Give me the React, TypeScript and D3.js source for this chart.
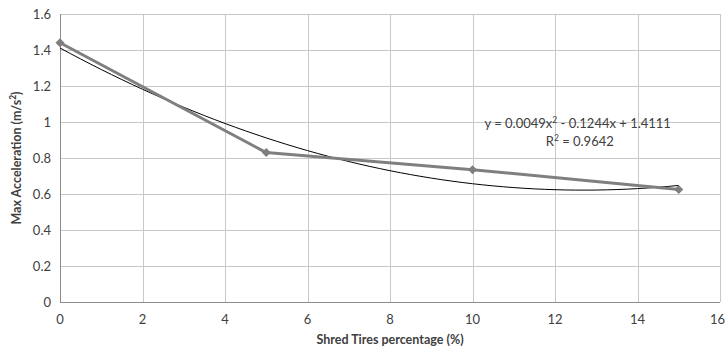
import React from 'react';
import * as d3 from 'd3';

// measured series
const shredPct = [0, 5, 10, 15];
const maxAccel = [1.44, 0.83, 0.735, 0.625];

// polynomial trendline coefficients as shown on chart (a x^2 + b x + c)
const trendCoef = [0.0049, -0.1244, 1.4111];

const xTicks = [0, 2, 4, 6, 8, 10, 12, 14, 16];
const yTicks = [0, 0.2, 0.4, 0.6, 0.8, 1, 1.2, 1.4, 1.6];

const W = 726;
const H = 354;
const margin = { top: 14, right: 6, bottom: 52, left: 60 };
const FONT = 'Lato, "Open Sans", sans-serif';

export default function App() {
  const iw = W - margin.left - margin.right;
  const ih = H - margin.top - margin.bottom;

  const x = d3.scaleLinear().domain([0, 16]).range([0, iw]);
  const y = d3.scaleLinear().domain([0, 1.6]).range([ih, 0]);

  const pts = shredPct.map((v, i) => [v, maxAccel[i]] as [number, number]);
  const seriesLine = d3.line<[number, number]>()
    .x(d => x(d[0]))
    .y(d => y(d[1]))(pts);

  const trendPts = d3.range(0, 15.01, 0.25).map(t => [
    t,
    trendCoef[0] * t * t + trendCoef[1] * t + trendCoef[2],
  ] as [number, number]);
  const trendLine = d3.line<[number, number]>()
    .x(d => x(d[0]))
    .y(d => y(d[1]))(trendPts);

  return (
    <svg width={W} height={H} style={{ position: 'absolute', left: 0, top: 0, background: '#fff' }}>
      <g transform={`translate(${margin.left},${margin.top})`}>
        {yTicks.map(t => (
          <line key={'gy' + t} x1={0} x2={iw} y1={Math.round(y(t)) + 0.5} y2={Math.round(y(t)) + 0.5}
            stroke="#c8c8c8" strokeWidth={1} />
        ))}
        {xTicks.map(t => (
          <line key={'gx' + t} x1={Math.round(x(t)) + 0.5} x2={Math.round(x(t)) + 0.5} y1={0} y2={ih}
            stroke="#c8c8c8" strokeWidth={1} />
        ))}
        {/* axes */}
        <line x1={0.5} x2={0.5} y1={0} y2={ih} stroke="#8c8c8c" />
        <line x1={0} x2={iw} y1={ih + 0.5} y2={ih + 0.5} stroke="#8c8c8c" />

        {yTicks.map(t => (
          <text key={'ty' + t} x={-9} y={y(t)} dy="0.35em" textAnchor="end"
            fontFamily={FONT} fontSize={13} fill="#404040">{d3.format('~g')(t)}</text>
        ))}
        {xTicks.map((t, i) => {
          const last = i === xTicks.length - 1;
          // keep the last label inside the window
          return (
            <text key={'tx' + t} x={last ? iw + margin.right - 1 : x(t)} y={ih + 22}
              textAnchor={last ? 'end' : 'middle'}
              fontFamily={FONT} fontSize={13} fill="#404040">{t}</text>
          );
        })}

        <path d={trendLine || ''} fill="none" stroke="#000" strokeWidth={1} />
        <path d={seriesLine || ''} fill="none" stroke="#7f7f7f" strokeWidth={3} strokeLinejoin="round" />
        {pts.map((p, i) => (
          <path key={'m' + i} d="M0,-4.5L4.5,0L0,4.5L-4.5,0Z"
            transform={`translate(${x(p[0])},${y(p[1])})`} fill="#7f7f7f" />
        ))}

        <text x={x(12.55)} y={y(0.99)} dy="0.35em" textAnchor="middle" fontFamily={FONT} fontSize={13} fill="#404040">
          y = 0.0049x<tspan dy="-5" fontSize={8.5}>2</tspan><tspan dy="5"> - 0.1244x + 1.4111</tspan>
        </text>
        <text x={x(12.6)} y={y(0.89)} dy="0.35em" textAnchor="middle" fontFamily={FONT} fontSize={13} fill="#404040">
          R<tspan dy="-5" fontSize={8.5}>2</tspan><tspan dy="5"> = 0.9642</tspan>
        </text>
      </g>

      <text x={margin.left + iw / 2} y={H - 10} textAnchor="middle" fontFamily={FONT}
        fontSize={12.5} fontWeight="bold" fill="#404040">Shred Tires percentage (%)</text>
      <text transform={`translate(21,${margin.top + ih / 2}) rotate(-90)`} textAnchor="middle"
        fontFamily={FONT} fontSize={12.5} fontWeight="bold" fill="#404040">
        Max Acceleration (m/s<tspan dy="-5" fontSize={8.5}>2</tspan><tspan dy="5">)</tspan>
      </text>
    </svg>
  );
}
